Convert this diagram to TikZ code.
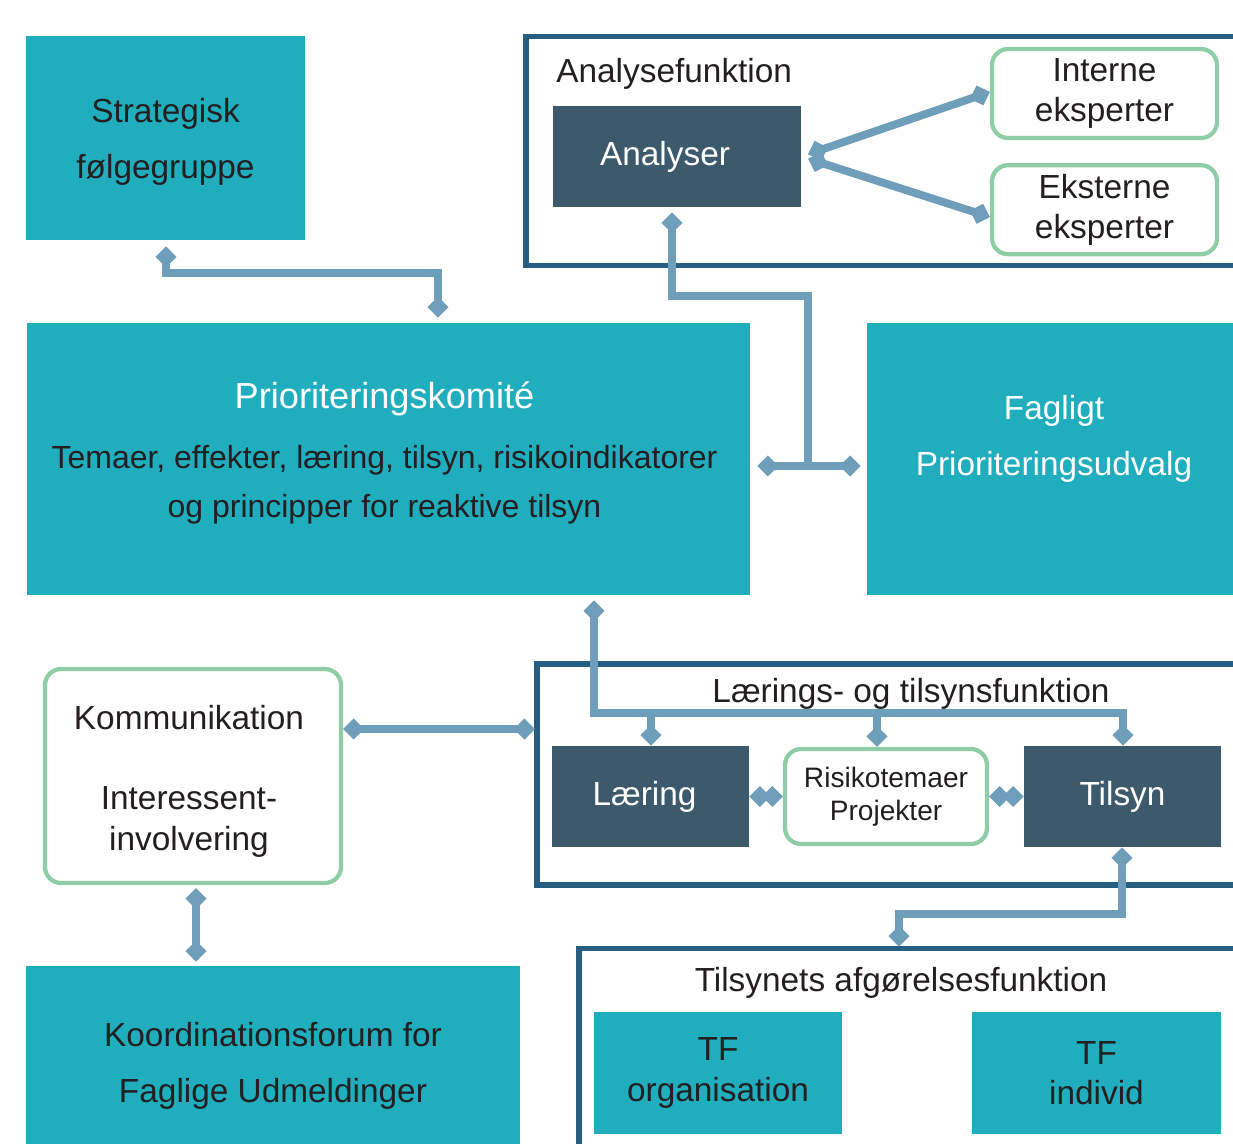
\documentclass[tikz,border=0pt]{standalone}
\usepackage{fontspec}
\setmainfont{Liberation Sans}
\usetikzlibrary{arrows.meta,positioning,calc}

\definecolor{boxteal}{RGB}{32,173,190}
\definecolor{boxdark}{RGB}{61,90,108}
\definecolor{linkblue}{RGB}{110,158,186}
\definecolor{boxgreen}{RGB}{142,205,166}
\definecolor{frameblue}{RGB}{37,94,128}
\definecolor{txtdark}{RGB}{35,31,32}

\tikzset{dtip/.tip={Diamond[length=12pt,width=12pt]}}

\begin{document}
\begin{tikzpicture}[
    x=0.02cm, y=-0.02cm,
    font=\fontsize{19}{23}\selectfont,
    block/.style={rectangle, fill=boxteal, text=txtdark, align=center, inner sep=0pt},
    darkbox/.style={rectangle, fill=boxdark, text=white, align=center, inner sep=0pt, minimum width=3.94cm, minimum height=2.02cm},
    greenbox/.style={rectangle, draw=boxgreen, line width=2.4pt, rounded corners=0.32cm, fill=white, text=txtdark, align=center, inner sep=0pt},
    funcframe/.style={rectangle, draw=frameblue, line width=3.1pt, anchor=north west, inner sep=0pt, outer sep=0pt},
    title/.style={text=txtdark, inner sep=0pt},
    link/.style={draw=linkblue, line width=4.5pt}
]
    \useasboundingbox (0,0) rectangle (1233,1143);
    \clip (0,0) rectangle (1233,1143);

    % top row
    \node[block, minimum width=5.58cm, minimum height=4.08cm] (strat) at (165.5,138) {};
    \node[text=txtdark, align=center, inner sep=0pt] (strattxt) at (165.5,142) {Strategisk\\[9pt]følgegruppe};

    \node[funcframe, minimum width=14.7cm, minimum height=4.58cm] (analysefrm) at (526,36.7) {};
    \node[title, anchor=west] (analysetitle) at (556,74) {Analysefunktion};
    \node[darkbox, minimum width=4.96cm] (analyser) at (677,156.5) {\hspace*{-0.48cm}Analyser};
    \node[greenbox, minimum width=4.5cm, minimum height=1.78cm] (interne) at (1104.5,93.5) {Interne\\eksperter};
    \node[greenbox, minimum width=4.5cm, minimum height=1.78cm, below=0.46cm of interne] (eksterne) {Eksterne\\eksperter};

    % middle row
    \node[block, minimum width=14.46cm, minimum height=5.44cm] (prio) at (388.5,459) {};
    \node[text=txtdark, align=center, inner sep=0pt, font=\fontsize{18.2}{23}\selectfont] (priotxt) at (384.5,453) {\textcolor{white}{\fontsize{20.6}{23}\selectfont Prioriteringskomité}\\[11.6pt]Temaer, effekter, læring, tilsyn, risikoindikatorer\\[4.8pt]og principper for reaktive tilsyn};
    \node[block, minimum width=7.48cm, minimum height=5.44cm] (faglig) at (1054,459) {};
    \node[text=white, align=center, inner sep=0pt] (fagligtxt) at (1054,439) {Fagligt\\[9pt]Prioriteringsudvalg};

    % lower rows
    \node[greenbox, minimum width=5.92cm, minimum height=4.28cm] (komm) at (193,776) {};
    \node[text=txtdark, align=center, inner sep=0pt] (kommtxt) at (189,781) {Kommunikation\\[23pt]Interessent-\\involvering};

    \node[funcframe, minimum width=14.4cm, minimum height=4.42cm] (laerfrm) at (537,664) {};
    \node[title] (laertitle) at (911,694) {Lærings- og tilsynsfunktion};
    \node[darkbox] (laering) at (650.5,796.5) {\hspace*{-0.24cm}Læring};
    \node[greenbox, minimum width=4.04cm, minimum height=1.9cm, font=\fontsize{16}{19}\selectfont] (risiko) at (886,796.5) {Risikotemaer\\Projekter};
    \node[darkbox] (tilsyn) at (1122.5,796.5) {Tilsyn};

    \node[block, minimum width=9.88cm, minimum height=3.88cm] (koord) at (273,1063) {};
    \node[text=txtdark, align=center, inner sep=0pt] (koordtxt) at (273,1065.5) {Koordinationsforum for\\[9pt]Faglige Udmeldinger};

    \node[funcframe, minimum width=13.6cm, minimum height=5cm] (tilsynfrm) at (579,948.7) {};
    \node[title] (tilsyntitle) at (901,983) {Tilsynets afgørelsesfunktion};
    \node[block, minimum width=4.96cm, minimum height=2.44cm] (tforg) at (718,1073) {TF\\organisation};
    \node[block, minimum width=4.98cm, minimum height=2.44cm] (tfind) at (1096.5,1073) {TF\\individ};

    % connectors
    \coordinate (bus1) at (651,713);
    \coordinate (bus2) at (877,713);

    \draw[link, dtip-dtip, shorten <=0.12cm, shorten >=0.1cm] (strat.south -| 166,0) |- (438,273) -- (prio.north -| 438,0);
    \draw[link, dtip-, shorten <=0.1cm] (analyser.south -| 672,0) |- (808,296) -- (808,466);
    \draw[link, dtip-dtip, shorten <=0.14cm, shorten >=0.12cm] (prio.east |- 0,466) -- (faglig.west |- 0,466);
    \draw[link, dtip-dtip, shorten <=0.14cm] (analyser.east) -- (interne.west |- 0,92);
    \draw[link, dtip-dtip, shorten <=0.14cm] (analyser.east) -- (eksterne.west |- 0,217);

    \draw[link, dtip-dtip, shorten <=0.1cm] (prio.south -| 594,0) |- (1123,713) -- (tilsyn.north -| 1123,0);
    \draw[link, -dtip] (bus1) -- (laering.north -| bus1);
    \draw[link, -dtip] (bus2) -- (risiko.north -| bus2);
    \draw[link, dtip-dtip] (laering.east) -- (risiko.west);
    \draw[link, dtip-dtip] (risiko.east) -- (tilsyn.west);

    \draw[link, dtip-dtip, shorten >=0.04cm] (komm.east |- 0,729) -- (laerfrm.west |- 0,729);
    \draw[link, dtip-dtip, shorten <=0.06cm, shorten >=0.08cm] (komm.south -| 196,0) -- (koord.north -| 196,0);
    \draw[link, dtip-dtip, shorten >=0.04cm] (tilsyn.south -| 1122,0) |- (899,914) -- (tilsynfrm.north -| 899,0);
\end{tikzpicture}
\end{document}
